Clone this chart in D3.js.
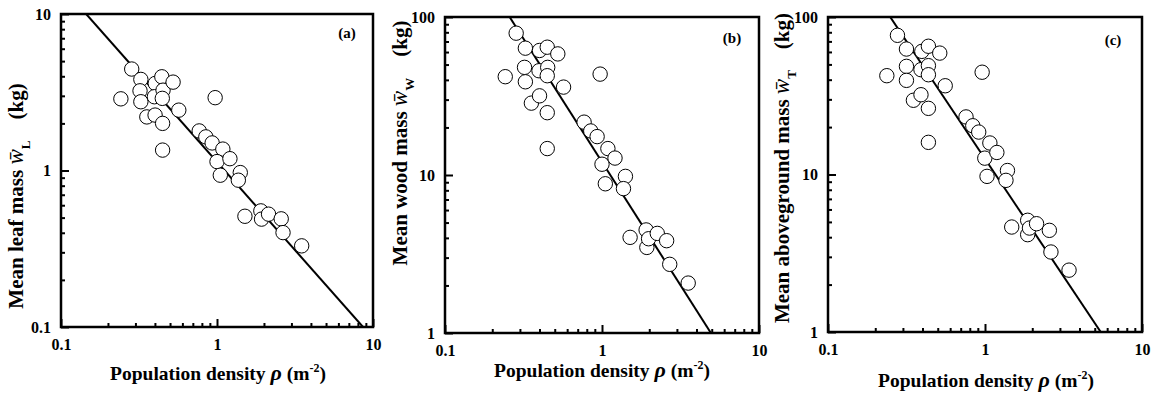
<!DOCTYPE html>
<html>
<head>
<meta charset="utf-8">
<script src="https://cdn.jsdelivr.net/npm/d3@7"></script>
<style>
  body { margin: 0; background: #fff; }
  svg { display: block; }
  svg text { font-family: "Liberation Serif", "Times New Roman", "DejaVu Serif", serif; font-weight: bold; fill: #000; }
</style>
</head>
<body>
<div id="chart"></div>
<script>
// population density (m^-2) and mean masses (kg)
const densityA = [0.242, 0.284, 0.325, 0.321, 0.325, 0.355, 0.401, 0.402, 0.397, 0.443, 0.451, 0.446, 0.448, 0.448,
  0.523, 0.569, 0.973, 0.769, 0.848, 0.931, 1.09, 1.0, 1.21, 1.05, 1.41, 1.37, 1.51, 1.91, 1.93, 2.14, 2.58, 2.65, 3.49];
const leafMass = [2.87, 4.45, 3.82, 3.23, 2.75, 2.2, 2.26, 3.6, 2.96, 3.97, 3.26, 2.89, 2.0, 1.35,
  3.67, 2.43, 2.92, 1.79, 1.64, 1.5, 1.37, 1.14, 1.19, 0.933, 0.97, 0.867, 0.51, 0.552, 0.489, 0.526, 0.491, 0.401, 0.33];

const densityB = [0.242, 0.284, 0.325, 0.321, 0.325, 0.355, 0.40, 0.40, 0.397, 0.448, 0.451, 0.448, 0.448, 0.448,
  0.523, 0.569, 0.973, 0.769, 0.848, 0.931, 1.09, 1.0, 1.21, 1.05, 1.41, 1.37, 1.51, 1.91, 1.93, 1.98, 2.25, 2.58, 2.70, 3.54];
const woodMass = [41.9, 79, 63.5, 48, 38.9, 28.5, 31.7, 61.4, 45.7, 64.4, 48, 42.5, 24.8, 14.7,
  58.4, 36.0, 43.5, 21.6, 19.0, 17.5, 14.7, 11.7, 12.8, 8.8, 9.8, 8.2, 4.03, 4.49, 3.48, 3.95, 4.27, 3.84, 2.72, 2.07];

const densityC = [0.237, 0.277, 0.316, 0.316, 0.316, 0.35, 0.391, 0.396, 0.391, 0.436, 0.436, 0.436, 0.436, 0.436,
  0.515, 0.558, 0.959, 0.757, 0.836, 0.912, 1.074, 0.997, 1.19, 1.03, 1.39, 1.36, 1.48, 1.87, 1.87, 1.92, 2.13, 2.57, 2.63, 3.43];
const totalMass = [42.4, 76.5, 62.6, 48.6, 39.6, 29.6, 32.1, 60.5, 46.3, 65.2, 49.1, 43, 26.3, 16.0,
  59, 36.6, 44.6, 23.2, 20.4, 18.6, 15.85, 12.7, 13.8, 9.73, 10.6, 9.18, 4.64, 5.12, 4.15, 4.57, 4.87, 4.42, 3.22, 2.47];

// fitted power-law lines, as end points in data units
const fitA = [[0.145, 10], [8.63, 0.1]];
const fitB = [[0.258, 100], [4.94, 1]];
const fitC = [[0.249, 100], [5.46, 1]];

const xTicks = [0.1, 1, 10];
const yTicksA = [0.1, 1, 10];
const yTicksB = [1, 10, 100];

const panels = [
  { id: "a", x: densityA, y: leafMass, fit: fitA, yDomain: [0.1, 10], yTicks: yTicksA,
    box: [61, 14, 373, 327], sub: "L", name: "Mean leaf mass ", yTitle: [23, 196], xTitle: [218, 380], tag: [347, 38] },
  { id: "b", x: densityB, y: woodMass, fit: fitB, yDomain: [1, 100], yTicks: yTicksB,
    box: [445, 17, 759, 333], sub: "W", name: "Mean wood mass ", yTitle: [407, 143], xTitle: [602, 377], tag: [732, 43] },
  { id: "c", x: densityC, y: totalMass, fit: fitC, yDomain: [1, 100], yTicks: yTicksB,
    box: [828, 17, 1142, 332], sub: "T", name: "Mean aboveground mass ", yTitle: [789, 168], xTitle: [986, 387], tag: [1113, 45] }
];

const svg = d3.select("#chart").append("svg")
  .attr("width", 1152)
  .attr("height", 393);

function minorTicks(domain) {
  const out = [];
  for (let d = domain[0]; d < domain[1] * 0.999; d *= 10) {
    for (let k = 2; k <= 9; k++) out.push(d * k);
  }
  return out;
}

// d3 puts font attributes on the axis group; clear them so the css serif applies
function plainAxis(sel) {
  sel.attr("font-family", null).attr("font-size", 16);
  sel.select(".domain").remove();
  sel.selectAll(".tick line").attr("stroke", "#000").attr("stroke-width", 2);
}

panels.forEach(p => {
  const [x0, y0, x1, y1] = p.box;
  const x = d3.scaleLog().domain([0.1, 10]).range([x0, x1]);
  const y = d3.scaleLog().domain(p.yDomain).range([y1, y0]);
  const g = svg.append("g");

  g.append("clipPath").attr("id", "clip-" + p.id)
    .append("rect").attr("x", x0).attr("y", y0).attr("width", x1 - x0).attr("height", y1 - y0);

  // ticks: inward, major and minor
  const fmt = d => d3.format("~g")(d);
  g.append("g").attr("transform", `translate(0,${y1})`)
    .call(d3.axisBottom(x).tickValues(xTicks).tickSize(-8).tickPadding(12).tickFormat(fmt))
    .call(plainAxis);
  g.append("g").attr("transform", `translate(0,${y1})`)
    .call(d3.axisBottom(x).tickValues(minorTicks([0.1, 10])).tickSize(-4).tickFormat(""))
    .call(plainAxis);
  g.append("g").attr("transform", `translate(${x0},0)`)
    .call(d3.axisLeft(y).tickValues(p.yTicks).tickSize(-8).tickPadding(10).tickFormat(fmt))
    .call(plainAxis);
  g.append("g").attr("transform", `translate(${x0},0)`)
    .call(d3.axisLeft(y).tickValues(minorTicks(p.yDomain)).tickSize(-4).tickFormat(""))
    .call(plainAxis);

  // fit line
  g.append("line")
    .attr("clip-path", `url(#clip-${p.id})`)
    .attr("x1", x(p.fit[0][0])).attr("y1", y(p.fit[0][1]))
    .attr("x2", x(p.fit[1][0])).attr("y2", y(p.fit[1][1]))
    .attr("stroke", "#000").attr("stroke-width", 2);

  // data points
  g.selectAll("circle.pt")
    .data(p.x.map((v, i) => [v, p.y[i]]))
    .enter().append("circle")
    .attr("class", "pt")
    .attr("cx", d => x(d[0]))
    .attr("cy", d => y(d[1]))
    .attr("r", 7.2)
    .attr("fill", "#fff")
    .attr("stroke", "#000")
    .attr("stroke-width", 1);

  // frame
  g.append("rect")
    .attr("x", x0).attr("y", y0).attr("width", x1 - x0).attr("height", y1 - y0)
    .attr("fill", "none").attr("stroke", "#000").attr("stroke-width", 2.5);

  // panel tag
  g.append("text")
    .attr("x", p.tag[0]).attr("y", p.tag[1])
    .attr("text-anchor", "middle")
    .style("font-size", "15px")
    .text(`(${p.id})`);

  // x title
  const xt = g.append("text")
    .attr("x", p.xTitle[0]).attr("y", p.xTitle[1])
    .attr("text-anchor", "middle")
    .style("font-size", "19.5px");
  xt.append("tspan").text("Population density ");
  xt.append("tspan").style("font-style", "italic").style("font-size", "22px").text("ρ");
  xt.append("tspan").text(" (m");
  xt.append("tspan").attr("dy", -8).style("font-size", "12px").text("-2");
  xt.append("tspan").attr("dy", 8).text(")");

  // y title
  const yt = g.append("text")
    .attr("transform", `translate(${p.yTitle[0]},${p.yTitle[1]}) rotate(-90)`)
    .attr("text-anchor", "middle")
    .style("font-size", "21px");
  yt.append("tspan").text(p.name);
  yt.append("tspan").style("font-style", "italic").style("font-weight", "normal")
    .style("font-size", "23px").text("w\u0304");
  yt.append("tspan").attr("dy", 7).style("font-size", "13px").text(p.sub);
  yt.append("tspan").attr("dy", -7).text("\u2003(kg)");
});
</script>
</body>
</html>
